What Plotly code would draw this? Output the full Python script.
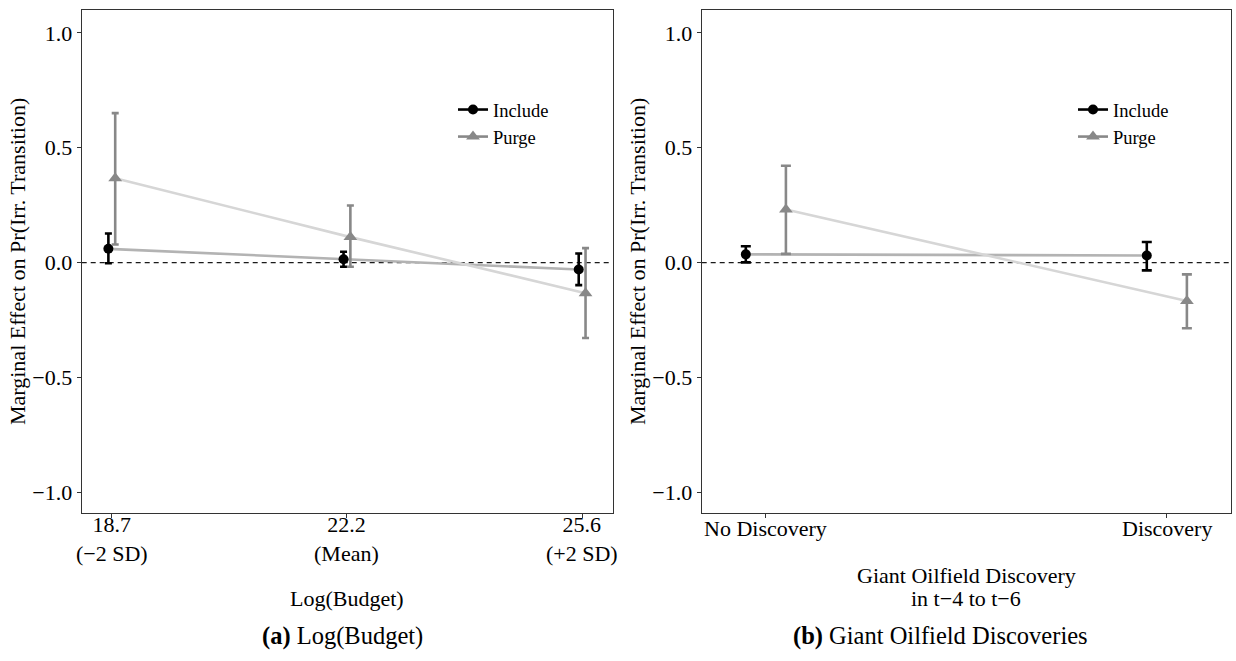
import plotly.graph_objects as go

# ---------------- data ----------------
budget_values = ["18.7", "22.2", "25.6"]
budget_sd = ["(−2 SD)", "(Mean)", "(+2 SD)"]
budget_pos = [0, 1, 2]
budget_include = [0.060, 0.015, -0.030]
budget_include_hi = [0.127, 0.047, 0.040]
budget_include_lo = [-0.003, -0.018, -0.098]
budget_purge = [0.367, 0.111, -0.133]
budget_purge_hi = [0.651, 0.249, 0.063]
budget_purge_lo = [0.079, -0.018, -0.328]

oil_ticks = ["No Discovery", "Discovery"]
oil_pos = [0, 1]
oil_include = [0.036, 0.031]
oil_include_hi = [0.071, 0.090]
oil_include_lo = [0.001, -0.034]
oil_purge = [0.231, -0.167]
oil_purge_hi = [0.422, -0.051]
oil_purge_lo = [0.038, -0.286]

y_ticks = [-1.0, -0.5, 0.0, 0.5, 1.0]
y_ticktext = ["−1.0", "−0.5", "0.0", "0.5", "1.0"]

# ---------------- style ----------------
FONT = "Liberation Serif"
INC_COL = "black"
PUR_COL = "#888888"
INC_LINE = "#b3b3b3"
PUR_LINE = "#d6d6d6"
W, H = 1236, 661
TICK_SIZE = 22

fig = go.Figure()


def add_panel(pos, inc, inc_hi, inc_lo, pur, pur_hi, pur_lo, dodge, capw, xa, ya, legend):
    xi = [p - dodge for p in pos]
    xp = [p + dodge for p in pos]
    fig.add_trace(go.Scatter(x=xi, y=inc, mode="lines", line=dict(color=INC_LINE, width=2.6),
                             showlegend=False, xaxis=xa, yaxis=ya, hoverinfo="skip"))
    fig.add_trace(go.Scatter(x=xp, y=pur, mode="lines", line=dict(color=PUR_LINE, width=2.6),
                             showlegend=False, xaxis=xa, yaxis=ya, hoverinfo="skip"))
    fig.add_trace(go.Scatter(
        x=xi, y=inc, mode="markers", showlegend=False, xaxis=xa, yaxis=ya,
        marker=dict(symbol="circle", size=10, color=INC_COL),
        error_y=dict(type="data", symmetric=False,
                     array=[h - v for h, v in zip(inc_hi, inc)],
                     arrayminus=[v - l for v, l in zip(inc, inc_lo)],
                     color=INC_COL, thickness=2.6, width=capw)))
    fig.add_trace(go.Scatter(
        x=xp, y=pur, mode="markers", showlegend=False, xaxis=xa, yaxis=ya,
        marker=dict(symbol="triangle-up", size=12, color=PUR_COL),
        error_y=dict(type="data", symmetric=False,
                     array=[h - v for h, v in zip(pur_hi, pur)],
                     arrayminus=[v - l for v, l in zip(pur, pur_lo)],
                     color=PUR_COL, thickness=2.6, width=capw)))
    # legend entries
    fig.add_trace(go.Scatter(x=[None], y=[None], mode="lines+markers", name="Include",
                             line=dict(color=INC_COL, width=2.6),
                             marker=dict(symbol="circle", size=10, color=INC_COL),
                             xaxis=xa, yaxis=ya, legend=legend))
    fig.add_trace(go.Scatter(x=[None], y=[None], mode="lines+markers", name="Purge",
                             line=dict(color=PUR_COL, width=2.6),
                             marker=dict(symbol="triangle-up", size=12, color=PUR_COL),
                             xaxis=xa, yaxis=ya, legend=legend))


add_panel(budget_pos, budget_include, budget_include_hi, budget_include_lo,
          budget_purge, budget_purge_hi, budget_purge_lo, 0.0145, 3.5, "x", "y", "legend")
add_panel(oil_pos, oil_include, oil_include_hi, oil_include_lo,
          oil_purge, oil_purge_hi, oil_purge_lo, 0.05, 5, "x2", "y2", "legend2")

axis_common = dict(showline=True, mirror=True, linecolor="#333333", linewidth=1.2,
                   showgrid=False, zeroline=False, ticks="outside", ticklen=4,
                   tickcolor="#333333", tickwidth=1,
                   tickfont=dict(family=FONT, size=TICK_SIZE, color="black"))

ytitle = "Marginal Effect on Pr(Irr. Transition)"


def py(px):
    return 1 - px / H


annotations = []
# x tick labels (placed through the x scale)
for p, v, s in zip(budget_pos, budget_values, budget_sd):
    annotations.append(dict(text=v + "<br>" + s, xref="x", yref="paper", x=p, y=py(539),
                            xanchor="center", yanchor="middle", showarrow=False,
                            font=dict(family=FONT, size=TICK_SIZE, color="black")))
for p, t in zip(oil_pos, oil_ticks):
    annotations.append(dict(text=t, xref="x2", yref="paper", x=p, y=py(528),
                            xanchor="center", yanchor="middle", showarrow=False,
                            font=dict(family=FONT, size=TICK_SIZE, color="black")))
# x axis titles and captions
annotations += [
    dict(text="Log(Budget)", xref="x domain", yref="paper", x=0.5, y=py(598),
         xanchor="center", yanchor="middle", showarrow=False,
         font=dict(family=FONT, size=22, color="black")),
    dict(text="Giant Oilfield Discovery", xref="x2 domain", yref="paper", x=0.5, y=py(575),
         xanchor="center", yanchor="middle", showarrow=False,
         font=dict(family=FONT, size=22, color="black")),
    dict(text="in t−4 to t−6", xref="x2 domain", yref="paper", x=0.5, y=py(598),
         xanchor="center", yanchor="middle", showarrow=False,
         font=dict(family=FONT, size=22, color="black")),
    dict(text="<b>(a)</b> Log(Budget)", xref="paper", yref="paper",
         x=342 / W, y=py(636), xanchor="center", yanchor="middle",
         showarrow=False, font=dict(family=FONT, size=24.5, color="black")),
    dict(text="<b>(b)</b> Giant Oilfield Discoveries", xref="paper", yref="paper",
         x=940 / W, y=py(636), xanchor="center", yanchor="middle",
         showarrow=False, font=dict(family=FONT, size=24.5, color="black")),
]

fig.update_layout(
    width=W, height=H, margin=dict(l=0, r=0, t=0, b=0),
    plot_bgcolor="white", paper_bgcolor="white",
    font=dict(family=FONT, color="black"),
    xaxis=dict(domain=[81.7 / W, 612.7 / W], range=[-0.128, 2.13],
               tickvals=budget_pos, showticklabels=False, anchor="y",
               **axis_common),
    yaxis=dict(domain=[py(512.7), py(10)], range=[-1.089, 1.1],
               tickvals=y_ticks, ticktext=y_ticktext, anchor="x",
               title=dict(text=ytitle, font=dict(family=FONT, size=22), standoff=0),
               **axis_common),
    xaxis2=dict(domain=[701.7 / W, 1231 / W], range=[-0.16, 1.16],
                tickvals=oil_pos, showticklabels=False, anchor="y2",
                **axis_common),
    yaxis2=dict(domain=[py(512.7), py(10)], range=[-1.089, 1.1],
                tickvals=y_ticks, ticktext=y_ticktext, anchor="x2",
                title=dict(text=ytitle, font=dict(family=FONT, size=22), standoff=0),
                **axis_common),
    legend=dict(x=453 / W, y=py(91), xanchor="left", yanchor="top",
                bgcolor="rgba(0,0,0,0)", font=dict(family=FONT, size=18.5),
                itemwidth=30, tracegroupgap=0),
    legend2=dict(x=1073 / W, y=py(91), xanchor="left", yanchor="top",
                 bgcolor="rgba(0,0,0,0)", font=dict(family=FONT, size=18.5),
                 itemwidth=30, tracegroupgap=0),
    shapes=[
        dict(type="line", xref="x domain", yref="y", x0=0, x1=1, y0=0, y1=0,
             line=dict(color="#1a1a1a", width=1.4, dash="5px,4px"), layer="below"),
        dict(type="line", xref="x2 domain", yref="y2", x0=0, x1=1, y0=0, y1=0,
             line=dict(color="#1a1a1a", width=1.4, dash="5px,4px"), layer="below"),
    ],
    annotations=annotations,
)

fig.write_html("out.html", config={"displayModeBar": False},
               post_script="document.body.style.margin='0';")
